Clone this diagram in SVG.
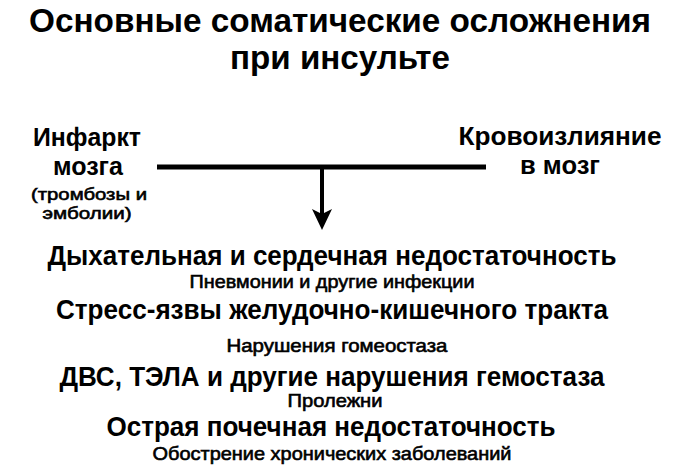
<svg xmlns="http://www.w3.org/2000/svg" width="678" height="468" viewBox="0 0 678 468">
<style>
text{font-family:"Liberation Sans",Arial,sans-serif;fill:#000;text-anchor:middle}
.t{font-size:33px;font-weight:bold}
.n{font-size:26px;font-weight:bold}
.s{font-size:17px;stroke:#000;stroke-width:0.6}
.b{font-size:28px;font-weight:bold}
.m{font-size:18.5px;stroke:#000;stroke-width:0.6}
</style>
<defs>
<marker id="ah" markerWidth="22" markerHeight="22" viewBox="0 0 22 22" refX="21" refY="11" orient="auto" markerUnits="userSpaceOnUse">
<path d="M0,1 L21,11 L0,21 L5,11 Z" fill="#000"/>
</marker>
</defs>
<rect width="678" height="468" fill="#fff"/>
<g id="title">
<text class="t" x="340" y="32" textLength="622" lengthAdjust="spacingAndGlyphs">Основные соматические осложнения</text>
<text class="t" x="340" y="69" textLength="220" lengthAdjust="spacingAndGlyphs">при инсульте</text>
</g>
<g id="node-infarct">
<text class="n" x="87" y="146" textLength="108" lengthAdjust="spacingAndGlyphs">Инфаркт</text>
<text class="n" x="88" y="175" textLength="70" lengthAdjust="spacingAndGlyphs">мозга</text>
<text class="s" x="89" y="200" textLength="116" lengthAdjust="spacingAndGlyphs">(тромбозы и</text>
<text class="s" x="87" y="219" textLength="89" lengthAdjust="spacingAndGlyphs">эмболии)</text>
</g>
<g id="node-hemorrhage">
<text class="n" x="560" y="145" textLength="203" lengthAdjust="spacingAndGlyphs">Кровоизлияние</text>
<text class="n" x="560" y="174" textLength="80" lengthAdjust="spacingAndGlyphs">в мозг</text>
</g>
<g id="connectors">
<line x1="157" y1="167" x2="486" y2="167" stroke="#000" stroke-width="5"/>
<line x1="322" y1="167" x2="322" y2="215" stroke="#000" stroke-width="4"/>
<line x1="322" y1="205" x2="322" y2="230" stroke="none" marker-end="url(#ah)"/>
</g>
<g id="node-complications">
<text class="b" x="332" y="265" textLength="569" lengthAdjust="spacingAndGlyphs">Дыхательная и сердечная недостаточность</text>
<text class="m" x="332" y="288" textLength="285" lengthAdjust="spacingAndGlyphs">Пневмонии и другие инфекции</text>
<text class="b" x="332" y="319" textLength="552" lengthAdjust="spacingAndGlyphs">Стресс-язвы желудочно-кишечного тракта</text>
<text class="m" x="337" y="352" textLength="221" lengthAdjust="spacingAndGlyphs">Нарушения гомеостаза</text>
<text class="b" x="332" y="386" textLength="545" lengthAdjust="spacingAndGlyphs">ДВС, ТЭЛА и другие нарушения гемостаза</text>
<text class="m" x="335" y="407" textLength="95" lengthAdjust="spacingAndGlyphs">Пролежни</text>
<text class="b" x="331" y="436" textLength="449" lengthAdjust="spacingAndGlyphs">Острая почечная недостаточность</text>
<text class="m" x="332" y="460" textLength="359" lengthAdjust="spacingAndGlyphs">Обострение хронических заболеваний</text>
</g>
</svg>
